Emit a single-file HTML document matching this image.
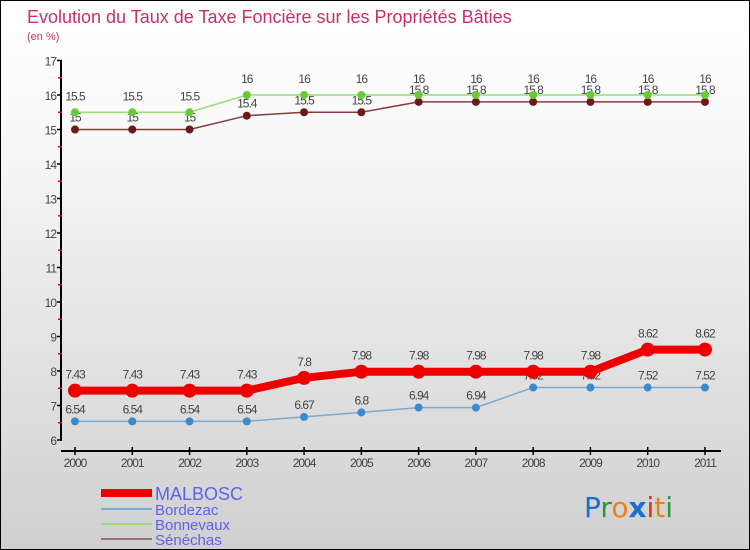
<!DOCTYPE html>
<html><head><meta charset="utf-8"><style>
body{margin:0}
#c{width:748px;height:548px;border:1px solid #000;background:linear-gradient(#fff,#fafafa 20%,#d0d0d0);position:relative;overflow:hidden;font-family:"Liberation Sans",sans-serif}
</style></head><body>
<div id="c">
<svg id="s" width="748" height="548">
<text x="26" y="22" font-size="18" fill="#c8306a">Evolution du Taux de Taxe Foncière sur les Propriétés Bâties</text>
<text x="26" y="39" font-size="11" fill="#c8306a">(en %)</text>
<g id="plot"></g>
<g>
<line x1="100" y1="492" x2="151" y2="492" stroke="#e00" stroke-width="8"/>
<text x="154" y="499" font-size="18" fill="#6060ee">MALBOSC</text>
<line x1="100" y1="508" x2="151" y2="508" stroke="#7aaad0" stroke-width="2"/>
<text x="154" y="514" font-size="15" fill="#6060ee">Bordezac</text>
<line x1="100" y1="523" x2="151" y2="523" stroke="#99dd77" stroke-width="2"/>
<text x="154" y="529" font-size="15" fill="#6060ee">Bonnevaux</text>
<line x1="100" y1="538" x2="151" y2="538" stroke="#a07070" stroke-width="2"/>
<text x="154" y="544" font-size="15" fill="#6060ee">Sénéchas</text>
</g>
<text x="583" y="516" font-size="28" font-family="'DejaVu Sans',sans-serif"><tspan fill="#1a6fd0">P</tspan><tspan fill="#2a9a3a">r</tspan><tspan fill="#f08010">o</tspan><tspan fill="#1a6fd0" font-weight="bold">x</tspan><tspan fill="#e03010">i</tspan><tspan fill="#f08010">t</tspan><tspan fill="#2a9a3a">i</tspan></text>
</svg>
</div>
<script>
const years=[2000,2001,2002,2003,2004,2005,2006,2007,2008,2009,2010,2011];
const yTicks=[6,7,8,9,10,11,12,13,14,15,16,17];
const malbosc=[7.43,7.43,7.43,7.43,7.8,7.98,7.98,7.98,7.98,7.98,8.62,8.62];
const bordezac=[6.54,6.54,6.54,6.54,6.67,6.8,6.94,6.94,7.52,7.52,7.52,7.52];
const bonnevaux=[15.5,15.5,15.5,16,16,16,16,16,16,16,16,16];
const senechas=[15,15,15,15.4,15.5,15.5,15.8,15.8,15.8,15.8,15.8,15.8];
const NS="http://www.w3.org/2000/svg";
const g=document.getElementById('plot');
const X=i=>74+i*57.27, Y=v=>439-(v-6)*34.5;
function mk(t,a,p){const e=document.createElementNS(NS,t);for(const k in a)e.setAttribute(k,a[k]);(p||g).appendChild(e);return e;}
let ax=mk('line',{x1:60,y1:59,x2:60,y2:440,stroke:'#000','stroke-width':2});


yTicks.forEach(v=>{
 let t=mk('line',{x1:56,y1:Y(v),x2:61,y2:Y(v),stroke:'#000','stroke-width':1.5});
 
 
 if(v<17){let m=mk('line',{x1:57,y1:Y(v+0.5),x2:61,y2:Y(v+0.5),stroke:'#e00','stroke-width':1.5});
 
 }
 let l=mk('text',{x:55,y:Y(v)+5,'font-size':12,fill:'#444','text-anchor':'end','letter-spacing':'-1'});
 l.textContent=v;
 
 
});
let xa=mk('line',{x1:60,y1:450,x2:720,y2:450,stroke:'#000','stroke-width':2});


years.forEach((y,i)=>{
 let t=mk('line',{x1:X(i),y1:446,x2:X(i),y2:454,stroke:'#000','stroke-width':1.5});
 
 
 let l=mk('text',{x:X(i),y:466,'font-size':12,fill:'#444','text-anchor':'middle','letter-spacing':'-1'});
 l.textContent=y;
 
 
});
function series(name,vals,color,lw,r,dot,off){
 const s=mk('g',{});
 
 
 const pl=mk('polyline',{points:vals.map((v,i)=>X(i)+','+Y(v)).join(' '),fill:'none',stroke:color,'stroke-width':lw},s);
 
 
 vals.forEach((v,i)=>{
  const c=mk('circle',{cx:X(i),cy:Y(v),r:r,fill:dot},s);
  
  
  const t=mk('text',{x:X(i),y:Y(v)-off,'font-size':12,fill:'#444','text-anchor':'middle','letter-spacing':'-1'},s);
  t.textContent=v;
  
  
 });
}
series('senechas',senechas,'#8a3a3a',1.5,4,'#6a1a1a',8);
series('bonnevaux',bonnevaux,'#99dd77',1.5,4,'#66cc33',12);
series('bordezac',bordezac,'#7aaad0',1.5,4,'#3a8acc',8);
series('malbosc',malbosc,'#ee0000',8,7,'#ee0000',12);
</script>
</body></html>
